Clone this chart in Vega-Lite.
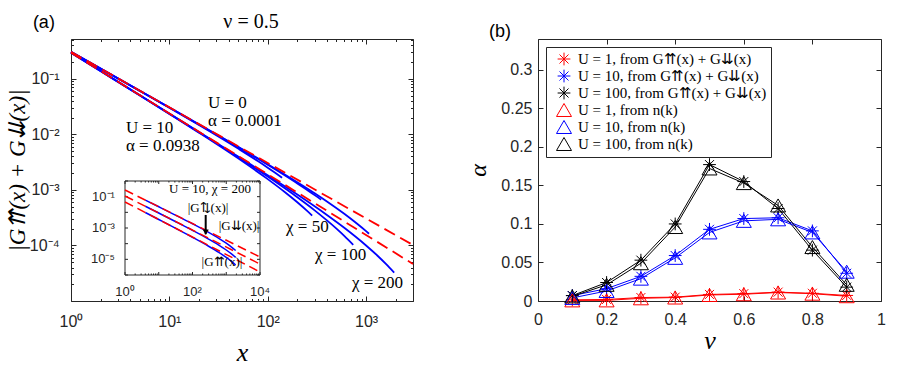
{
  "$schema": "https://vega.github.io/schema/vega-lite/v6.json",
  "padding": {"left": 5, "top": 11, "right": 18, "bottom": 0},
  "autosize": {"type": "pad"},
  "bounds": "flush",
  "spacing": 125,
  "background": "white",
  "resolve": {"scale": {"color": "independent", "shape": "independent", "size": "independent"}, "legend": {"color": "independent", "shape": "independent", "size": "independent"}},
  "config": {
    "view": {"stroke": "#262626", "strokeWidth": 1},
    "axis": {"domain": false, "grid": false, "labelFlush": false, "labelOverlap": false, "tickColor": "#262626", "tickWidth": 1, "labelColor": "#262626", "labelFont": "Liberation Sans", "labelFontSize": 16, "titleColor": "#000000", "titleFont": "Liberation Serif", "titleFontStyle": "italic", "titleFontWeight": "normal"},
    "legend": {"orient": "top-left", "offset": 8, "padding": 4, "strokeColor": "#262626", "fillColor": "white", "labelFont": "Liberation Serif", "labelFontSize": 15, "labelColor": "#000000", "labelLimit": 400, "symbolSize": 225, "symbolStrokeWidth": 1, "symbolOffset": 6, "labelOffset": 6, "rowPadding": -1}
  },
  "datasets": {
    "mc": [
      {"curve": "U0c50", "x": 1, "y": 0.3054}, {"curve": "U0c50", "x": 2, "y": 0.1524}, {"curve": "U0c50", "x": 5, "y": 0.0606}, {"curve": "U0c50", "x": 10, "y": 0.03}, {"curve": "U0c50", "x": 20, "y": 0.0147}, {"curve": "U0c50", "x": 50, "y": 0.00554}, {"curve": "U0c50", "x": 80, "y": 0.00327}, {"curve": "U0c50", "x": 100, "y": 0.00251}, {"curve": "U0c50", "x": 120, "y": 0.00201}, {"curve": "U0c50", "x": 140, "y": 0.00166},
      {"curve": "U0c100", "x": 1, "y": 0.3058}, {"curve": "U0c100", "x": 10, "y": 0.03036}, {"curve": "U0c100", "x": 30, "y": 0.00996}, {"curve": "U0c100", "x": 50, "y": 0.00588}, {"curve": "U0c100", "x": 100, "y": 0.002828}, {"curve": "U0c100", "x": 150, "y": 0.001812}, {"curve": "U0c100", "x": 200, "y": 0.001307}, {"curve": "U0c100", "x": 250, "y": 0.001004}, {"curve": "U0c100", "x": 300, "y": 0.000805}, {"curve": "U0c100", "x": 349, "y": 0.000665},
      {"curve": "U0c200", "x": 1, "y": 0.306}, {"curve": "U0c200", "x": 10, "y": 0.0304}, {"curve": "U0c200", "x": 30, "y": 0.01004}, {"curve": "U0c200", "x": 100, "y": 0.002904}, {"curve": "U0c200", "x": 200, "y": 0.001377}, {"curve": "U0c200", "x": 300, "y": 0.000871}, {"curve": "U0c200", "x": 400, "y": 0.00062}, {"curve": "U0c200", "x": 600, "y": 0.000372}, {"curve": "U0c200", "x": 800, "y": 0.000251}, {"curve": "U0c200", "x": 1000, "y": 0.000181}, {"curve": "U0c200", "x": 1072, "y": 0.0001624},
      {"curve": "U10c50", "x": 1, "y": 0.2945}, {"curve": "U10c50", "x": 2, "y": 0.1377}, {"curve": "U10c50", "x": 5, "y": 0.0503}, {"curve": "U10c50", "x": 10, "y": 0.0233}, {"curve": "U10c50", "x": 20, "y": 0.0107}, {"curve": "U10c50", "x": 50, "y": 0.003692}, {"curve": "U10c50", "x": 100, "y": 0.001563}, {"curve": "U10c50", "x": 150, "y": 0.000906}, {"curve": "U10c50", "x": 200, "y": 0.000598}, {"curve": "U10c50", "x": 250, "y": 0.000423}, {"curve": "U10c50", "x": 283, "y": 0.000345},
      {"curve": "U10c100", "x": 1, "y": 0.2948}, {"curve": "U10c100", "x": 10, "y": 0.02354}, {"curve": "U10c100", "x": 50, "y": 0.003889}, {"curve": "U10c100", "x": 100, "y": 0.001734}, {"curve": "U10c100", "x": 200, "y": 0.000736}, {"curve": "U10c100", "x": 300, "y": 0.000428}, {"curve": "U10c100", "x": 400, "y": 0.000282}, {"curve": "U10c100", "x": 500, "y": 0.0002003}, {"curve": "U10c100", "x": 600, "y": 0.0001485}, {"curve": "U10c100", "x": 740, "y": 0.0001027},
      {"curve": "U10c200", "x": 1, "y": 0.295}, {"curve": "U10c200", "x": 10, "y": 0.02368}, {"curve": "U10c200", "x": 50, "y": 0.004001}, {"curve": "U10c200", "x": 100, "y": 0.001835}, {"curve": "U10c200", "x": 200, "y": 0.000823}, {"curve": "U10c200", "x": 400, "y": 0.0003533}, {"curve": "U10c200", "x": 600, "y": 0.0002079}, {"curve": "U10c200", "x": 1000, "y": 0.0000999}, {"curve": "U10c200", "x": 1300, "y": 0.0000659}, {"curve": "U10c200", "x": 1600, "y": 0.000046}, {"curve": "U10c200", "x": 1932, "y": 0.0000324}
    ],
    "mf": [
      {"curve": "U0fit", "x": 1, "y": 0.306}, {"curve": "U0fit", "x": 3000, "y": 0.000102},
      {"curve": "U10fit", "x": 1, "y": 0.2951}, {"curve": "U10fit", "x": 3000, "y": 0.0000464}
    ],
    "mt": [
      {"label": "U = 0", "x": 24.7, "y": 0.0366},
      {"label": "α = 0.0001", "x": 24.7, "y": 0.01738},
      {"label": "U = 10", "x": 3.62, "y": 0.013},
      {"label": "α = 0.0938", "x": 3.62, "y": 0.00617},
      {"label": "χ = 50", "x": 153.5, "y": 0.000211},
      {"label": "χ = 100", "x": 302.5, "y": 0.0000664},
      {"label": "χ = 200", "x": 719, "y": 0.0000209}
    ],
    "tagA": [{"label": "(a)", "x": 0.53, "y": 1.01}],
    "titleA": [{"label": "ν = 0.5", "x": 67.6, "y": 1.05}],
    "ib": [{"x": 1, "x2": 10000, "y": 0.000001, "y2": 1}],
    "ixt": [
      {"v": 1, "kind": "major"}, {"v": 2, "kind": "minor"}, {"v": 3, "kind": "minor"}, {"v": 4, "kind": "minor"}, {"v": 5, "kind": "minor"}, {"v": 6, "kind": "minor"}, {"v": 7, "kind": "minor"}, {"v": 8, "kind": "minor"}, {"v": 9, "kind": "minor"},
      {"v": 10, "kind": "major"}, {"v": 20, "kind": "minor"}, {"v": 30, "kind": "minor"}, {"v": 40, "kind": "minor"}, {"v": 50, "kind": "minor"}, {"v": 60, "kind": "minor"}, {"v": 70, "kind": "minor"}, {"v": 80, "kind": "minor"}, {"v": 90, "kind": "minor"},
      {"v": 100, "kind": "major"}, {"v": 200, "kind": "minor"}, {"v": 300, "kind": "minor"}, {"v": 400, "kind": "minor"}, {"v": 500, "kind": "minor"}, {"v": 600, "kind": "minor"}, {"v": 700, "kind": "minor"}, {"v": 800, "kind": "minor"}, {"v": 900, "kind": "minor"},
      {"v": 1000, "kind": "major"}, {"v": 2000, "kind": "minor"}, {"v": 3000, "kind": "minor"}, {"v": 4000, "kind": "minor"}, {"v": 5000, "kind": "minor"}, {"v": 6000, "kind": "minor"}, {"v": 7000, "kind": "minor"}, {"v": 8000, "kind": "minor"}, {"v": 9000, "kind": "minor"},
      {"v": 10000, "kind": "major"}
    ],
    "iyt": [{"v": 0.000001}, {"v": 0.00001}, {"v": 0.0001}, {"v": 0.001}, {"v": 0.01}, {"v": 0.1}, {"v": 1}],
    "ixl": [{"v": 1, "label": "10⁰"}, {"v": 100, "label": "10²"}, {"v": 10000, "label": "10⁴"}],
    "iyl": [{"v": 0.1, "label": "10⁻¹"}, {"v": 0.001, "label": "10⁻³"}, {"v": 0.00001, "label": "10⁻⁵"}],
    "ic": [
      {"curve": "dd", "x": 4, "y": 0.0605}, {"curve": "dd", "x": 10, "y": 0.02265}, {"curve": "dd", "x": 30, "y": 0.00693}, {"curve": "dd", "x": 100, "y": 0.001858}, {"curve": "dd", "x": 300, "y": 0.000526}, {"curve": "dd", "x": 600, "y": 0.0002203}, {"curve": "dd", "x": 1000, "y": 0.0001072}, {"curve": "dd", "x": 1400, "y": 0.000063}, {"curve": "dd", "x": 1900, "y": 0.0000365},
      {"curve": "ud", "x": 4, "y": 0.02443}, {"curve": "ud", "x": 10, "y": 0.009016}, {"curve": "ud", "x": 30, "y": 0.00271}, {"curve": "ud", "x": 100, "y": 0.000711}, {"curve": "ud", "x": 300, "y": 0.0001977}, {"curve": "ud", "x": 600, "y": 0.0000818}, {"curve": "ud", "x": 1000, "y": 0.0000394}, {"curve": "ud", "x": 1400, "y": 0.000023}, {"curve": "ud", "x": 1900, "y": 0.0000133},
      {"curve": "uu", "x": 4, "y": 0.00971}, {"curve": "uu", "x": 10, "y": 0.003475}, {"curve": "uu", "x": 30, "y": 0.001009}, {"curve": "uu", "x": 100, "y": 0.000255}, {"curve": "uu", "x": 300, "y": 0.0000686}, {"curve": "uu", "x": 600, "y": 0.0000278}, {"curve": "uu", "x": 1000, "y": 0.0000132}, {"curve": "uu", "x": 1400, "y": 0.00000762}, {"curve": "uu", "x": 1900, "y": 0.00000435}
    ],
    "if": [
      {"curve": "dd", "x": 1, "y": 0.2667}, {"curve": "dd", "x": 10000, "y": 0.0000141},
      {"curve": "ud", "x": 1, "y": 0.1104}, {"curve": "ud", "x": 10000, "y": 0.000005},
      {"curve": "uu", "x": 1, "y": 0.0457}, {"curve": "uu", "x": 10000, "y": 0.000001556}
    ],
    "it": [
      {"label": "U = 10, χ = 200", "x": 330, "y": 0.31},
      {"label": "|G⇅(x)|", "x": 288, "y": 0.019},
      {"label": "|G⇊(x)|", "x": 2390, "y": 0.00135},
      {"label": "|G⇈(x)|", "x": 746, "y": 0.0000068}
    ],
    "ia": [{"x": 246, "y": 0.0068, "y2": 0.0004, "yh": 0.00055}],
    "al": [
      {"nu": 0.1, "a": 0.0015, "s": "U = 1, from G⇈(x) + G⇊(x)"}, {"nu": 0.2, "a": 0.002, "s": "U = 1, from G⇈(x) + G⇊(x)"}, {"nu": 0.3, "a": 0.0045, "s": "U = 1, from G⇈(x) + G⇊(x)"}, {"nu": 0.4, "a": 0.005, "s": "U = 1, from G⇈(x) + G⇊(x)"}, {"nu": 0.5, "a": 0.0085, "s": "U = 1, from G⇈(x) + G⇊(x)"}, {"nu": 0.6, "a": 0.0095, "s": "U = 1, from G⇈(x) + G⇊(x)"}, {"nu": 0.7, "a": 0.0115, "s": "U = 1, from G⇈(x) + G⇊(x)"}, {"nu": 0.8, "a": 0.01, "s": "U = 1, from G⇈(x) + G⇊(x)"}, {"nu": 0.9, "a": 0.0072, "s": "U = 1, from G⇈(x) + G⇊(x)"},
      {"nu": 0.1, "a": 0.007, "s": "U = 10, from G⇈(x) + G⇊(x)"}, {"nu": 0.2, "a": 0.016, "s": "U = 10, from G⇈(x) + G⇊(x)"}, {"nu": 0.3, "a": 0.032, "s": "U = 10, from G⇈(x) + G⇊(x)"}, {"nu": 0.4, "a": 0.059, "s": "U = 10, from G⇈(x) + G⇊(x)"}, {"nu": 0.5, "a": 0.093, "s": "U = 10, from G⇈(x) + G⇊(x)"}, {"nu": 0.6, "a": 0.107, "s": "U = 10, from G⇈(x) + G⇊(x)"}, {"nu": 0.7, "a": 0.108, "s": "U = 10, from G⇈(x) + G⇊(x)"}, {"nu": 0.8, "a": 0.091, "s": "U = 10, from G⇈(x) + G⇊(x)"}, {"nu": 0.9, "a": 0.036, "s": "U = 10, from G⇈(x) + G⇊(x)"},
      {"nu": 0.1, "a": 0.007, "s": "U = 100, from G⇈(x) + G⇊(x)"}, {"nu": 0.2, "a": 0.024, "s": "U = 100, from G⇈(x) + G⇊(x)"}, {"nu": 0.3, "a": 0.053, "s": "U = 100, from G⇈(x) + G⇊(x)"}, {"nu": 0.4, "a": 0.1, "s": "U = 100, from G⇈(x) + G⇊(x)"}, {"nu": 0.5, "a": 0.177, "s": "U = 100, from G⇈(x) + G⇊(x)"}, {"nu": 0.6, "a": 0.155, "s": "U = 100, from G⇈(x) + G⇊(x)"}, {"nu": 0.7, "a": 0.12, "s": "U = 100, from G⇈(x) + G⇊(x)"}, {"nu": 0.8, "a": 0.066, "s": "U = 100, from G⇈(x) + G⇊(x)"}, {"nu": 0.9, "a": 0.018, "s": "U = 100, from G⇈(x) + G⇊(x)"},
      {"nu": 0.1, "a": 0.0008, "s": "U = 1, from n(k)"}, {"nu": 0.2, "a": 0.0008, "s": "U = 1, from n(k)"}, {"nu": 0.3, "a": 0.0035, "s": "U = 1, from n(k)"}, {"nu": 0.4, "a": 0.0045, "s": "U = 1, from n(k)"}, {"nu": 0.5, "a": 0.0078, "s": "U = 1, from n(k)"}, {"nu": 0.6, "a": 0.0088, "s": "U = 1, from n(k)"}, {"nu": 0.7, "a": 0.011, "s": "U = 1, from n(k)"}, {"nu": 0.8, "a": 0.0095, "s": "U = 1, from n(k)"}, {"nu": 0.9, "a": 0.0062, "s": "U = 1, from n(k)"},
      {"nu": 0.1, "a": 0.004, "s": "U = 10, from n(k)"}, {"nu": 0.2, "a": 0.013, "s": "U = 10, from n(k)"}, {"nu": 0.3, "a": 0.029, "s": "U = 10, from n(k)"}, {"nu": 0.4, "a": 0.056, "s": "U = 10, from n(k)"}, {"nu": 0.5, "a": 0.089, "s": "U = 10, from n(k)"}, {"nu": 0.6, "a": 0.104, "s": "U = 10, from n(k)"}, {"nu": 0.7, "a": 0.106, "s": "U = 10, from n(k)"}, {"nu": 0.8, "a": 0.089, "s": "U = 10, from n(k)"}, {"nu": 0.9, "a": 0.038, "s": "U = 10, from n(k)"},
      {"nu": 0.1, "a": 0.006, "s": "U = 100, from n(k)"}, {"nu": 0.2, "a": 0.021, "s": "U = 100, from n(k)"}, {"nu": 0.3, "a": 0.049, "s": "U = 100, from n(k)"}, {"nu": 0.4, "a": 0.096, "s": "U = 100, from n(k)"}, {"nu": 0.5, "a": 0.172, "s": "U = 100, from n(k)"}, {"nu": 0.6, "a": 0.153, "s": "U = 100, from n(k)"}, {"nu": 0.7, "a": 0.124, "s": "U = 100, from n(k)"}, {"nu": 0.8, "a": 0.07, "s": "U = 100, from n(k)"}, {"nu": 0.9, "a": 0.021, "s": "U = 100, from n(k)"}
    ],
    "tagB": [{"label": "(b)", "x": -0.111, "y": 0.349}]
  },
  "hconcat": [
    {
      "width": 342,
      "height": 262,
      "resolve": {"scale": {"x": "independent", "y": "independent"}, "axis": {"x": "independent", "y": "independent"}},
      "layer": [
        {
          "layer": [
            {
              "data": {"name": "mc"},
              "mark": {"type": "line", "color": "#0000FF", "strokeWidth": 1.8, "interpolate": "monotone"},
              "encoding": {
                "x": {"field": "x", "type": "quantitative", "scale": {"type": "log", "domain": [1, 3000], "nice": false},
                  "axis": {"orient": "bottom", "values": [1,2,3,4,5,6,7,8,9,10,20,30,40,50,60,70,80,90,100,200,300,400,500,600,700,800,900,1000,2000,3000],
                    "labelExpr": "abs(log(datum.value)/LN10 - round(log(datum.value)/LN10)) < 0.001 ? '10' + ['⁰','¹','²','³','⁴'][round(log(datum.value)/LN10)] : ''",
                    "tickSize": {"condition": {"test": "abs(log(datum.value)/LN10 - round(log(datum.value)/LN10)) < 0.001", "value": -5}, "value": -2.5},
                    "labelPadding": 17, "title": "x", "titleFontSize": 26, "titlePadding": 8}},
                "y": {"field": "y", "type": "quantitative", "scale": {"type": "log", "domain": [0.00001, 0.52], "nice": false},
                  "axis": {"orient": "left", "values": [0.00001,0.00002,0.00003,0.00004,0.00005,0.00006,0.00007,0.00008,0.00009,0.0001,0.0002,0.0003,0.0004,0.0005,0.0006,0.0007,0.0008,0.0009,0.001,0.002,0.003,0.004,0.005,0.006,0.007,0.008,0.009,0.01,0.02,0.03,0.04,0.05,0.06,0.07,0.08,0.09,0.1,0.2,0.3,0.4,0.5],
                    "labelExpr": "datum.value > 0.00002 && abs(log(datum.value)/LN10 - round(log(datum.value)/LN10)) < 0.001 ? '10⁻' + ['⁰','¹','²','³','⁴','⁵','⁶'][-round(log(datum.value)/LN10)] : ''",
                    "tickSize": {"condition": {"test": "abs(log(datum.value)/LN10 - round(log(datum.value)/LN10)) < 0.001", "value": -5}, "value": -2.5},
                    "labelPadding": 17, "title": "|G⇈(x) + G⇊(x)|", "titleFontSize": 23, "titlePadding": 0}},
                "detail": {"field": "curve"}
              }
            },
            {
              "data": {"name": "mf"},
              "mark": {"type": "line", "color": "#FF0000", "strokeWidth": 1.8, "strokeDash": [12, 6]},
              "encoding": {
                "x": {"field": "x", "type": "quantitative",
                  "axis": {"orient": "top", "labels": false, "title": null, "values": [1,2,3,4,5,6,7,8,9,10,20,30,40,50,60,70,80,90,100,200,300,400,500,600,700,800,900,1000,2000,3000],
                    "tickSize": {"condition": {"test": "abs(log(datum.value)/LN10 - round(log(datum.value)/LN10)) < 0.001", "value": -5}, "value": -2.5}}},
                "y": {"field": "y", "type": "quantitative",
                  "axis": {"orient": "right", "labels": false, "title": null, "values": [0.00001,0.00002,0.00003,0.00004,0.00005,0.00006,0.00007,0.00008,0.00009,0.0001,0.0002,0.0003,0.0004,0.0005,0.0006,0.0007,0.0008,0.0009,0.001,0.002,0.003,0.004,0.005,0.006,0.007,0.008,0.009,0.01,0.02,0.03,0.04,0.05,0.06,0.07,0.08,0.09,0.1,0.2,0.3,0.4,0.5],
                    "tickSize": {"condition": {"test": "abs(log(datum.value)/LN10 - round(log(datum.value)/LN10)) < 0.001", "value": -5}, "value": -2.5}}},
                "detail": {"field": "curve"}
              }
            },
            {
              "data": {"name": "mt"},
              "mark": {"type": "text", "align": "left", "baseline": "middle", "font": "Liberation Serif", "fontSize": 17, "color": "#000000"},
              "encoding": {
                "x": {"field": "x", "type": "quantitative", "axis": null},
                "y": {"field": "y", "type": "quantitative", "axis": null},
                "text": {"field": "label"}
              }
            },
            {
              "data": {"name": "tagA"},
              "mark": {"type": "text", "align": "center", "baseline": "middle", "font": "Liberation Sans", "fontSize": 18, "color": "#000000"},
              "encoding": {
                "x": {"field": "x", "type": "quantitative", "axis": null},
                "y": {"field": "y", "type": "quantitative", "axis": null},
                "text": {"field": "label"}
              }
            },
            {
              "data": {"name": "titleA"},
              "mark": {"type": "text", "align": "center", "baseline": "middle", "font": "Liberation Serif", "fontSize": 20, "color": "#000000"},
              "encoding": {
                "x": {"field": "x", "type": "quantitative", "axis": null},
                "y": {"field": "y", "type": "quantitative", "axis": null},
                "text": {"field": "label"}
              }
            }
          ]
        },
        {
          "layer": [
            {
              "data": {"name": "ib"},
              "mark": {"type": "rect", "fill": "white", "stroke": "#262626", "strokeWidth": 1},
              "encoding": {
                "x": {"field": "x", "type": "quantitative", "scale": {"type": "log", "domain": [1, 10000], "range": [54, 189], "nice": false}, "axis": null},
                "x2": {"field": "x2"},
                "y": {"field": "y", "type": "quantitative", "scale": {"type": "log", "domain": [0.000001, 1], "range": [236, 142], "nice": false}, "axis": null},
                "y2": {"field": "y2"}
              }
            },
            {
              "data": {"name": "ixt"},
              "mark": {"type": "point", "shape": "M0,0L0,-1", "filled": false, "stroke": "#262626", "strokeWidth": 1, "opacity": 1},
              "encoding": {
                "x": {"field": "v", "type": "quantitative", "axis": null},
                "y": {"datum": 0.000001, "type": "quantitative", "axis": null},
                "size": {"field": "kind", "type": "nominal", "scale": {"domain": ["major", "minor"], "range": [36, 9]}, "legend": null}
              }
            },
            {
              "data": {"name": "ixt"},
              "mark": {"type": "point", "shape": "M0,0L0,1", "filled": false, "stroke": "#262626", "strokeWidth": 1, "opacity": 1},
              "encoding": {
                "x": {"field": "v", "type": "quantitative", "axis": null},
                "y": {"datum": 1, "type": "quantitative", "axis": null},
                "size": {"field": "kind", "type": "nominal", "scale": {"domain": ["major", "minor"], "range": [36, 9]}, "legend": null}
              }
            },
            {
              "data": {"name": "iyt"},
              "mark": {"type": "point", "shape": "M0,0L1,0", "filled": false, "stroke": "#262626", "strokeWidth": 1, "opacity": 1, "size": 36},
              "encoding": {
                "x": {"datum": 1, "type": "quantitative", "axis": null},
                "y": {"field": "v", "type": "quantitative", "axis": null}
              }
            },
            {
              "data": {"name": "iyt"},
              "mark": {"type": "point", "shape": "M0,0L-1,0", "filled": false, "stroke": "#262626", "strokeWidth": 1, "opacity": 1, "size": 36},
              "encoding": {
                "x": {"datum": 10000, "type": "quantitative", "axis": null},
                "y": {"field": "v", "type": "quantitative", "axis": null}
              }
            },
            {
              "data": {"name": "ixl"},
              "mark": {"type": "text", "align": "center", "baseline": "middle", "font": "Liberation Sans", "fontSize": 13, "color": "#262626"},
              "encoding": {
                "x": {"field": "v", "type": "quantitative", "axis": null},
                "y": {"datum": 0.000000082, "type": "quantitative", "axis": null},
                "text": {"field": "label"}
              }
            },
            {
              "data": {"name": "iyl"},
              "mark": {"type": "text", "align": "right", "baseline": "middle", "font": "Liberation Sans", "fontSize": 13, "color": "#262626"},
              "encoding": {
                "x": {"datum": 0.5, "type": "quantitative", "axis": null},
                "y": {"field": "v", "type": "quantitative", "axis": null},
                "text": {"field": "label"}
              }
            },
            {
              "data": {"name": "ic"},
              "mark": {"type": "line", "color": "#0000FF", "strokeWidth": 1.5, "interpolate": "monotone"},
              "encoding": {
                "x": {"field": "x", "type": "quantitative", "axis": null},
                "y": {"field": "y", "type": "quantitative", "axis": null},
                "detail": {"field": "curve"}
              }
            },
            {
              "data": {"name": "if"},
              "mark": {"type": "line", "color": "#FF0000", "strokeWidth": 1.5, "strokeDash": [9, 5]},
              "encoding": {
                "x": {"field": "x", "type": "quantitative", "axis": null},
                "y": {"field": "y", "type": "quantitative", "axis": null},
                "detail": {"field": "curve"}
              }
            },
            {
              "data": {"name": "ia"},
              "mark": {"type": "rule", "color": "#000000", "strokeWidth": 2},
              "encoding": {
                "x": {"field": "x", "type": "quantitative", "axis": null},
                "y": {"field": "y", "type": "quantitative", "axis": null},
                "y2": {"field": "y2"}
              }
            },
            {
              "data": {"name": "ia"},
              "mark": {"type": "point", "shape": "triangle-down", "filled": true, "color": "#000000", "size": 35, "opacity": 1},
              "encoding": {
                "x": {"field": "x", "type": "quantitative", "axis": null},
                "y": {"field": "yh", "type": "quantitative", "axis": null}
              }
            },
            {
              "data": {"name": "it"},
              "mark": {"type": "text", "align": "center", "baseline": "middle", "font": "Liberation Serif", "fontSize": 13, "color": "#000000"},
              "encoding": {
                "x": {"field": "x", "type": "quantitative", "axis": null},
                "y": {"field": "y", "type": "quantitative", "axis": null},
                "text": {"field": "label"}
              }
            }
          ]
        }
      ]
    },
    {
      "width": 343,
      "height": 262,
      "layer": [
        {
          "data": {"name": "al"},
          "mark": {"type": "line", "strokeWidth": 1},
          "encoding": {
            "x": {"field": "nu", "type": "quantitative", "scale": {"domain": [0, 1], "nice": false, "zero": false},
              "axis": {"orient": "bottom", "values": [0, 0.2, 0.4, 0.6, 0.8, 1], "format": "~g", "tickSize": -5, "labelPadding": 15, "title": "ν", "titleFontSize": 26, "titlePadding": 0}},
            "y": {"field": "a", "type": "quantitative", "scale": {"domain": [0, 0.34], "nice": false},
              "axis": {"orient": "left", "values": [0, 0.05, 0.1, 0.15, 0.2, 0.25, 0.3], "format": "~g", "tickSize": -5, "labelPadding": 11, "title": "α", "titleFontSize": 24, "titlePadding": 10}},
            "color": {"field": "s", "type": "nominal",
              "scale": {"domain": ["U = 1, from G⇈(x) + G⇊(x)", "U = 10, from G⇈(x) + G⇊(x)", "U = 100, from G⇈(x) + G⇊(x)", "U = 1, from n(k)", "U = 10, from n(k)", "U = 100, from n(k)"],
                "range": ["#FF0000", "#0000FF", "#000000", "#FF0000", "#0000FF", "#000000"]},
              "legend": {"title": null}}
          }
        },
        {
          "data": {"name": "al"},
          "mark": {"type": "point", "filled": false, "strokeWidth": 1, "size": 225, "opacity": 1},
          "encoding": {
            "x": {"field": "nu", "type": "quantitative",
              "axis": {"orient": "top", "labels": false, "title": null, "values": [0, 0.2, 0.4, 0.6, 0.8, 1], "tickSize": -5}},
            "y": {"field": "a", "type": "quantitative",
              "axis": {"orient": "right", "labels": false, "title": null, "values": [0, 0.05, 0.1, 0.15, 0.2, 0.25, 0.3], "tickSize": -5}},
            "color": {"field": "s", "type": "nominal",
              "scale": {"domain": ["U = 1, from G⇈(x) + G⇊(x)", "U = 10, from G⇈(x) + G⇊(x)", "U = 100, from G⇈(x) + G⇊(x)", "U = 1, from n(k)", "U = 10, from n(k)", "U = 100, from n(k)"],
                "range": ["#FF0000", "#0000FF", "#000000", "#FF0000", "#0000FF", "#000000"]},
              "legend": {"title": null}},
            "shape": {"field": "s", "type": "nominal",
              "scale": {"domain": ["U = 1, from G⇈(x) + G⇊(x)", "U = 10, from G⇈(x) + G⇊(x)", "U = 100, from G⇈(x) + G⇊(x)", "U = 1, from n(k)", "U = 10, from n(k)", "U = 100, from n(k)"],
                "range": ["M-0.85,0L0.85,0M0,-0.85L0,0.85M-0.6,-0.6L0.6,0.6M-0.6,0.6L0.6,-0.6", "M-0.85,0L0.85,0M0,-0.85L0,0.85M-0.6,-0.6L0.6,0.6M-0.6,0.6L0.6,-0.6", "M-0.85,0L0.85,0M0,-0.85L0,0.85M-0.6,-0.6L0.6,0.6M-0.6,0.6L0.6,-0.6", "triangle-up", "triangle-up", "triangle-up"]},
              "legend": {"title": null}}
          }
        },
        {
          "data": {"name": "tagB"},
          "mark": {"type": "text", "align": "center", "baseline": "middle", "font": "Liberation Sans", "fontSize": 18, "color": "#000000"},
          "encoding": {
            "x": {"field": "x", "type": "quantitative", "axis": null},
            "y": {"field": "y", "type": "quantitative", "axis": null},
            "text": {"field": "label"}
          }
        }
      ]
    }
  ]
}
